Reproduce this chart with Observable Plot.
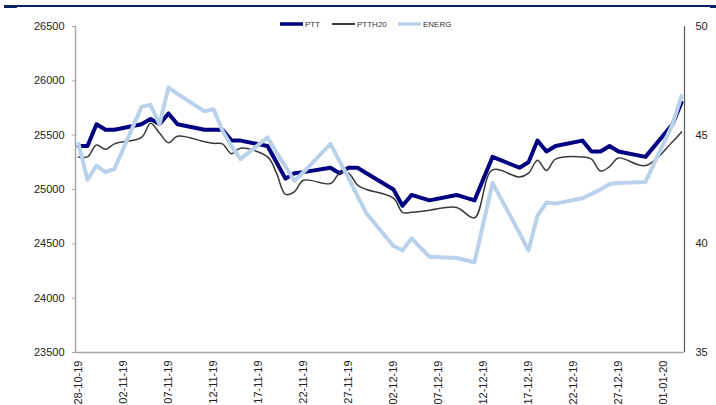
<!DOCTYPE html>
<html><head><meta charset="utf-8">
<script src="https://cdn.jsdelivr.net/npm/d3@7"></script>
<script src="https://cdn.jsdelivr.net/npm/@observablehq/plot@0.6"></script>
<style>
body{margin:0;background:#fff;}
#chart{position:relative;width:716px;height:405px;}
</style></head><body><div id="chart"></div>
<script>
const dates = [
 "2019-10-28","2019-10-29","2019-10-30","2019-10-31","2019-11-01",
 "2019-11-04","2019-11-05","2019-11-06","2019-11-07","2019-11-08",
 "2019-11-11","2019-11-12","2019-11-13","2019-11-14","2019-11-15",
 "2019-11-18","2019-11-19","2019-11-20","2019-11-21","2019-11-22",
 "2019-11-25","2019-11-26","2019-11-27","2019-11-28","2019-11-29",
 "2019-12-02","2019-12-03","2019-12-04",
 "2019-12-06",
 "2019-12-09",
 "2019-12-11",
 "2019-12-13",
 "2019-12-16","2019-12-17","2019-12-18","2019-12-19","2019-12-20",
 "2019-12-23","2019-12-24","2019-12-25","2019-12-26","2019-12-27",
 "2019-12-30",
 "2020-01-02","2020-01-03"];
const ptt = [
 25400,25400,25600,25550,25550,
 25600,25650,25600,25700,25600,
 25550,25550,25550,25450,25450,
 25400,25250,25100,25150,25160,
 25200,25150,25200,25200,25150,
 25000,24850,24950,
 24900,
 24950,
 24900,
 25300,
 25200,25250,25450,25350,25400,
 25450,25350,25350,25400,25350,
 25300,
 25600,25800];
const ptth20 = [
 25300,25300,25410,25370,25420,
 25480,25610,25520,25430,25490,
 25440,25425,25420,25330,25380,
 25300,25150,24955,24980,25085,
 25055,25150,25150,25040,25000,
 24920,24790,24790,
 24810,
 24835,
 24740,
 25180,
 25115,25150,25270,25175,25280,
 25300,25280,25170,25210,25290,
 25220,
 25440,25530];
const energ = [
 44.6,42.95,43.6,43.3,43.45,
 46.3,46.4,45.5,47.2,46.9,
 46.1,46.2,45.2,44.5,43.9,
 44.9,44.2,43.55,42.9,43.3,
 44.6,43.8,43.05,42.2,41.4,
 39.9,39.7,40.25,
 39.4,
 39.35,
 39.15,
 42.8,
 40.5,39.7,41.3,41.9,41.85,
 42.1,42.3,42.5,42.75,42.8,
 42.85,
 45.5,46.8];
const leftTicks = [23500,24000,24500,25000,25500,26000,26500];
const rightTicks = [35,40,45,50];
const xTicks = ["2019-10-28","2019-11-02","2019-11-07","2019-11-12","2019-11-17","2019-11-22","2019-11-27",
 "2019-12-02","2019-12-07","2019-12-12","2019-12-17","2019-12-22","2019-12-27","2020-01-01"];
const seriesNames = ["PTT","PTTH20","ENERG"];
const seriesColors = ["#000080","#3a3a3a","#b9d1ea"];
const seriesWidths = [4,1.5,4];

const parse = d3.utcParse("%Y-%m-%d");
const toLeft = v => 23500 + (v - 35) * 200;
const rows = dates.map((d, i) => ({date: parse(d), ptt: ptt[i], ptth20: ptth20[i], energ: toLeft(energ[i])}));
const x0 = new Date(parse(dates[0]).getTime() - 8 * 3600e3);
const x1 = new Date(parse(dates[dates.length - 1]).getTime() + 8 * 3600e3);

const chart = Plot.plot({
  width: 716, height: 405,
  marginLeft: 75, marginRight: 32, marginTop: 26, marginBottom: 53,
  style: {fontFamily: "'Liberation Sans', Arial, sans-serif", fontSize: "11px", color: "#222", background: "#fff"},
  x: {type: "utc", domain: [x0, x1]},
  y: {domain: [23500, 26500]},
  marks: [
    Plot.ruleX([x0], {stroke: "#a6a6a6", strokeWidth: 1.5}),
    Plot.ruleX([x1], {stroke: "#595959", strokeWidth: 1.2}),
    Plot.ruleY([23500], {stroke: "#a6a6a6", strokeWidth: 1.5}),
    Plot.axisY({ticks: leftTicks, tickSize: 3, tickPadding: 8, label: null, stroke: "#a6a6a6", fill: "#222", tickFormat: d => String(d)}),
    Plot.axisY({anchor: "right", ticks: rightTicks.map(toLeft), tickFormat: d => String((d - 23500) / 200 + 35), tickSize: 0, tickPadding: 11, label: null, fill: "#222"}),
    Plot.axisX({ticks: xTicks.map(parse), tickFormat: d3.utcFormat("%d-%m-%y"), tickRotate: -90, tickSize: 0, tickPadding: 8, label: null, fill: "#222"}),
    Plot.line(rows, {x: "date", y: "ptt", stroke: seriesColors[0], strokeWidth: seriesWidths[0]}),
    Plot.line(rows, {x: "date", y: "ptth20", stroke: seriesColors[1], strokeWidth: seriesWidths[1], curve: "catmull-rom"}),
    Plot.line(rows, {x: "date", y: "energ", stroke: seriesColors[2], strokeWidth: seriesWidths[2]})
  ]
});
document.getElementById("chart").appendChild(chart);

// header rule
const svg = d3.select(chart);
const hdr = svg.append("g");
hdr.append("rect").attr("x", 4).attr("y", 5).attr("width", 13).attr("height", 3).attr("fill", "#0a2463");
hdr.append("rect").attr("x", 17).attr("y", 5).attr("width", 694).attr("height", 2).attr("fill", "#0a2463");
hdr.append("rect").attr("x", 710).attr("y", 5).attr("width", 6).attr("height", 3).attr("fill", "#0a2463");

// legend
const legX = [280, 332, 398];
const lg = svg.append("g").attr("font-family", "'Liberation Sans', Arial, sans-serif").attr("font-size", 8).attr("text-anchor", "start");
seriesNames.forEach((n, i) => {
  lg.append("line").attr("x1", legX[i]).attr("x2", legX[i] + 23).attr("y1", 24).attr("y2", 24)
    .attr("stroke", seriesColors[i]).attr("stroke-width", seriesWidths[i] === 4 ? 3.5 : 2);
  lg.append("text").attr("x", legX[i] + 25).attr("y", 24).attr("dy", "0.35em").attr("text-anchor", "start").attr("fill", "#333").text(n);
});
</script></body></html>
